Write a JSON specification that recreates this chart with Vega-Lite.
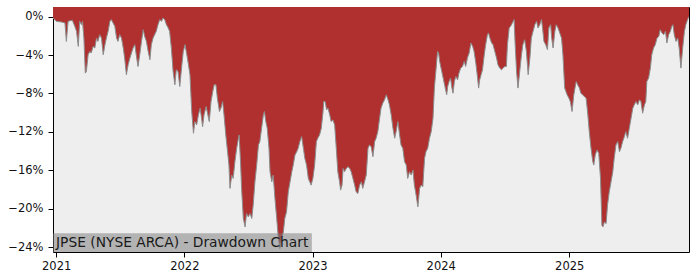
{
  "$schema": "https://vega.github.io/schema/vega-lite/v6.json",
  "width": 636,
  "height": 245,
  "autosize": {"type": "none"},
  "padding": {"left": 53, "top": 7, "right": 11, "bottom": 28},
  "background": "#ffffff",
  "datasets": {
    "dd": [
    {"date": "2020-12-23", "dd": -0.14},
    {"date": "2021-01-02", "dd": -0.49},
    {"date": "2021-01-16", "dd": -0.56},
    {"date": "2021-01-26", "dd": -0.66},
    {"date": "2021-01-30", "dd": -2.58},
    {"date": "2021-02-04", "dd": -0.49},
    {"date": "2021-02-16", "dd": -0.38},
    {"date": "2021-02-23", "dd": -1.01},
    {"date": "2021-02-28", "dd": -1.53},
    {"date": "2021-03-05", "dd": -3.10},
    {"date": "2021-03-09", "dd": -0.49},
    {"date": "2021-03-14", "dd": -0.84},
    {"date": "2021-03-17", "dd": -0.49},
    {"date": "2021-03-21", "dd": -2.23},
    {"date": "2021-03-25", "dd": -5.88},
    {"date": "2021-03-28", "dd": -5.71},
    {"date": "2021-04-02", "dd": -3.97},
    {"date": "2021-04-07", "dd": -3.62},
    {"date": "2021-04-11", "dd": -3.79},
    {"date": "2021-04-16", "dd": -3.10},
    {"date": "2021-04-21", "dd": -3.27},
    {"date": "2021-04-26", "dd": -2.23},
    {"date": "2021-04-30", "dd": -2.58},
    {"date": "2021-05-05", "dd": -1.88},
    {"date": "2021-05-10", "dd": -2.23},
    {"date": "2021-05-15", "dd": -3.97},
    {"date": "2021-05-20", "dd": -2.92},
    {"date": "2021-05-24", "dd": -2.23},
    {"date": "2021-05-29", "dd": -1.53},
    {"date": "2021-06-03", "dd": -0.49},
    {"date": "2021-06-07", "dd": -0.31},
    {"date": "2021-06-12", "dd": -0.66},
    {"date": "2021-06-17", "dd": -1.01},
    {"date": "2021-06-22", "dd": -2.23},
    {"date": "2021-06-26", "dd": -2.58},
    {"date": "2021-07-01", "dd": -1.88},
    {"date": "2021-07-06", "dd": -2.23},
    {"date": "2021-07-11", "dd": -3.27},
    {"date": "2021-07-15", "dd": -4.31},
    {"date": "2021-07-20", "dd": -6.05},
    {"date": "2021-07-25", "dd": -5.01},
    {"date": "2021-07-30", "dd": -4.31},
    {"date": "2021-08-08", "dd": -3.27},
    {"date": "2021-08-13", "dd": -2.92},
    {"date": "2021-08-17", "dd": -3.97},
    {"date": "2021-08-22", "dd": -5.19},
    {"date": "2021-08-27", "dd": -3.97},
    {"date": "2021-09-01", "dd": -2.58},
    {"date": "2021-09-06", "dd": -1.36},
    {"date": "2021-09-10", "dd": -2.06},
    {"date": "2021-09-15", "dd": -2.58},
    {"date": "2021-09-20", "dd": -3.62},
    {"date": "2021-09-25", "dd": -4.49},
    {"date": "2021-09-29", "dd": -2.92},
    {"date": "2021-10-04", "dd": -2.23},
    {"date": "2021-10-13", "dd": -1.53},
    {"date": "2021-10-18", "dd": -0.84},
    {"date": "2021-10-23", "dd": -0.31},
    {"date": "2021-10-28", "dd": -0.49},
    {"date": "2021-11-01", "dd": -0.14},
    {"date": "2021-11-06", "dd": -0.31},
    {"date": "2021-11-11", "dd": -0.84},
    {"date": "2021-11-16", "dd": -1.18},
    {"date": "2021-11-20", "dd": -1.53},
    {"date": "2021-11-25", "dd": -3.27},
    {"date": "2021-11-30", "dd": -5.71},
    {"date": "2021-12-05", "dd": -7.10},
    {"date": "2021-12-09", "dd": -5.53},
    {"date": "2021-12-14", "dd": -5.71},
    {"date": "2021-12-19", "dd": -7.27},
    {"date": "2021-12-25", "dd": -5.01},
    {"date": "2021-12-29", "dd": -3.62},
    {"date": "2022-01-03", "dd": -2.92},
    {"date": "2022-01-08", "dd": -3.97},
    {"date": "2022-01-12", "dd": -4.84},
    {"date": "2022-01-17", "dd": -6.05},
    {"date": "2022-01-22", "dd": -9.88},
    {"date": "2022-01-27", "dd": -12.14},
    {"date": "2022-01-31", "dd": -10.93},
    {"date": "2022-02-05", "dd": -11.27},
    {"date": "2022-02-10", "dd": -10.23},
    {"date": "2022-02-15", "dd": -9.53},
    {"date": "2022-02-19", "dd": -10.58},
    {"date": "2022-02-22", "dd": -11.45},
    {"date": "2022-02-26", "dd": -10.23},
    {"date": "2022-03-04", "dd": -9.36},
    {"date": "2022-03-07", "dd": -9.88},
    {"date": "2022-03-13", "dd": -10.93},
    {"date": "2022-03-18", "dd": -8.84},
    {"date": "2022-03-23", "dd": -7.79},
    {"date": "2022-03-27", "dd": -7.10},
    {"date": "2022-04-01", "dd": -7.10},
    {"date": "2022-04-05", "dd": -8.49},
    {"date": "2022-04-11", "dd": -9.88},
    {"date": "2022-04-15", "dd": -9.53},
    {"date": "2022-04-20", "dd": -8.84},
    {"date": "2022-04-24", "dd": -10.23},
    {"date": "2022-04-29", "dd": -12.32},
    {"date": "2022-05-03", "dd": -13.71},
    {"date": "2022-05-08", "dd": -15.45},
    {"date": "2022-05-11", "dd": -17.88},
    {"date": "2022-05-16", "dd": -16.49},
    {"date": "2022-05-20", "dd": -16.84},
    {"date": "2022-05-25", "dd": -15.10},
    {"date": "2022-05-30", "dd": -13.71},
    {"date": "2022-06-04", "dd": -12.66},
    {"date": "2022-06-06", "dd": -12.32},
    {"date": "2022-06-10", "dd": -15.10},
    {"date": "2022-06-13", "dd": -17.88},
    {"date": "2022-06-18", "dd": -21.01},
    {"date": "2022-06-23", "dd": -21.89},
    {"date": "2022-06-27", "dd": -20.49},
    {"date": "2022-07-02", "dd": -20.84},
    {"date": "2022-07-07", "dd": -20.49},
    {"date": "2022-07-12", "dd": -21.01},
    {"date": "2022-07-16", "dd": -19.62},
    {"date": "2022-07-21", "dd": -17.19},
    {"date": "2022-07-26", "dd": -15.45},
    {"date": "2022-07-31", "dd": -13.36},
    {"date": "2022-08-04", "dd": -13.01},
    {"date": "2022-08-09", "dd": -11.62},
    {"date": "2022-08-14", "dd": -10.23},
    {"date": "2022-08-17", "dd": -9.88},
    {"date": "2022-08-21", "dd": -10.93},
    {"date": "2022-08-25", "dd": -11.62},
    {"date": "2022-08-30", "dd": -13.71},
    {"date": "2022-09-02", "dd": -16.15},
    {"date": "2022-09-07", "dd": -17.19},
    {"date": "2022-09-11", "dd": -16.49},
    {"date": "2022-09-16", "dd": -18.93},
    {"date": "2022-09-21", "dd": -21.01},
    {"date": "2022-09-25", "dd": -22.76},
    {"date": "2022-09-30", "dd": -24.14},
    {"date": "2022-10-05", "dd": -23.10},
    {"date": "2022-10-10", "dd": -22.41},
    {"date": "2022-10-14", "dd": -21.01},
    {"date": "2022-10-19", "dd": -20.32},
    {"date": "2022-10-24", "dd": -18.23},
    {"date": "2022-10-29", "dd": -17.19},
    {"date": "2022-11-03", "dd": -16.15},
    {"date": "2022-11-07", "dd": -15.45},
    {"date": "2022-11-12", "dd": -14.41},
    {"date": "2022-11-17", "dd": -14.06},
    {"date": "2022-11-21", "dd": -13.71},
    {"date": "2022-11-26", "dd": -13.01},
    {"date": "2022-12-01", "dd": -12.49},
    {"date": "2022-12-06", "dd": -13.71},
    {"date": "2022-12-10", "dd": -14.75},
    {"date": "2022-12-15", "dd": -15.45},
    {"date": "2022-12-20", "dd": -16.84},
    {"date": "2022-12-24", "dd": -17.19},
    {"date": "2022-12-28", "dd": -17.54},
    {"date": "2023-01-02", "dd": -16.84},
    {"date": "2023-01-07", "dd": -15.45},
    {"date": "2023-01-12", "dd": -13.01},
    {"date": "2023-01-16", "dd": -12.66},
    {"date": "2023-01-21", "dd": -12.32},
    {"date": "2023-01-26", "dd": -11.62},
    {"date": "2023-01-31", "dd": -9.88},
    {"date": "2023-02-02", "dd": -8.84},
    {"date": "2023-02-06", "dd": -8.84},
    {"date": "2023-02-10", "dd": -9.71},
    {"date": "2023-02-14", "dd": -9.53},
    {"date": "2023-02-19", "dd": -10.23},
    {"date": "2023-02-23", "dd": -10.93},
    {"date": "2023-02-28", "dd": -10.75},
    {"date": "2023-03-05", "dd": -11.27},
    {"date": "2023-03-09", "dd": -13.36},
    {"date": "2023-03-14", "dd": -16.15},
    {"date": "2023-03-19", "dd": -17.19},
    {"date": "2023-03-22", "dd": -18.06},
    {"date": "2023-03-26", "dd": -17.54},
    {"date": "2023-03-29", "dd": -15.80},
    {"date": "2023-04-02", "dd": -16.15},
    {"date": "2023-04-07", "dd": -15.80},
    {"date": "2023-04-12", "dd": -15.62},
    {"date": "2023-04-17", "dd": -15.80},
    {"date": "2023-04-21", "dd": -16.15},
    {"date": "2023-04-26", "dd": -16.84},
    {"date": "2023-05-01", "dd": -17.54},
    {"date": "2023-05-05", "dd": -18.23},
    {"date": "2023-05-10", "dd": -18.41},
    {"date": "2023-05-15", "dd": -17.54},
    {"date": "2023-05-20", "dd": -17.19},
    {"date": "2023-05-24", "dd": -17.88},
    {"date": "2023-05-29", "dd": -17.19},
    {"date": "2023-06-03", "dd": -16.49},
    {"date": "2023-06-08", "dd": -13.71},
    {"date": "2023-06-12", "dd": -13.36},
    {"date": "2023-06-17", "dd": -13.54},
    {"date": "2023-06-22", "dd": -14.58},
    {"date": "2023-06-27", "dd": -13.01},
    {"date": "2023-07-01", "dd": -12.66},
    {"date": "2023-07-06", "dd": -11.97},
    {"date": "2023-07-11", "dd": -10.58},
    {"date": "2023-07-15", "dd": -9.53},
    {"date": "2023-07-20", "dd": -9.01},
    {"date": "2023-07-25", "dd": -8.66},
    {"date": "2023-07-30", "dd": -8.14},
    {"date": "2023-08-04", "dd": -8.66},
    {"date": "2023-08-08", "dd": -9.19},
    {"date": "2023-08-13", "dd": -10.23},
    {"date": "2023-08-18", "dd": -11.62},
    {"date": "2023-08-23", "dd": -12.66},
    {"date": "2023-08-27", "dd": -11.97},
    {"date": "2023-09-01", "dd": -10.93},
    {"date": "2023-09-06", "dd": -12.32},
    {"date": "2023-09-10", "dd": -13.36},
    {"date": "2023-09-15", "dd": -13.71},
    {"date": "2023-09-20", "dd": -15.10},
    {"date": "2023-09-25", "dd": -15.45},
    {"date": "2023-09-29", "dd": -16.84},
    {"date": "2023-10-04", "dd": -16.15},
    {"date": "2023-10-09", "dd": -16.49},
    {"date": "2023-10-14", "dd": -15.97},
    {"date": "2023-10-18", "dd": -17.54},
    {"date": "2023-10-23", "dd": -18.58},
    {"date": "2023-10-28", "dd": -19.80},
    {"date": "2023-11-02", "dd": -17.88},
    {"date": "2023-11-06", "dd": -17.54},
    {"date": "2023-11-11", "dd": -17.71},
    {"date": "2023-11-16", "dd": -14.75},
    {"date": "2023-11-20", "dd": -14.06},
    {"date": "2023-11-25", "dd": -13.71},
    {"date": "2023-11-30", "dd": -12.66},
    {"date": "2023-12-05", "dd": -11.97},
    {"date": "2023-12-10", "dd": -10.58},
    {"date": "2023-12-14", "dd": -7.44},
    {"date": "2023-12-19", "dd": -5.36},
    {"date": "2023-12-23", "dd": -3.62},
    {"date": "2023-12-26", "dd": -3.79},
    {"date": "2023-12-29", "dd": -4.66},
    {"date": "2024-01-04", "dd": -5.71},
    {"date": "2024-01-08", "dd": -6.40},
    {"date": "2024-01-14", "dd": -7.44},
    {"date": "2024-01-18", "dd": -8.14},
    {"date": "2024-01-21", "dd": -7.27},
    {"date": "2024-01-25", "dd": -6.75},
    {"date": "2024-01-29", "dd": -6.40},
    {"date": "2024-02-02", "dd": -7.44},
    {"date": "2024-02-05", "dd": -7.97},
    {"date": "2024-02-09", "dd": -6.75},
    {"date": "2024-02-13", "dd": -6.23},
    {"date": "2024-02-18", "dd": -6.58},
    {"date": "2024-02-22", "dd": -5.88},
    {"date": "2024-02-27", "dd": -5.36},
    {"date": "2024-03-03", "dd": -5.19},
    {"date": "2024-03-08", "dd": -4.66},
    {"date": "2024-03-12", "dd": -5.19},
    {"date": "2024-03-17", "dd": -4.31},
    {"date": "2024-03-22", "dd": -3.79},
    {"date": "2024-03-27", "dd": -2.75},
    {"date": "2024-04-01", "dd": -3.10},
    {"date": "2024-04-05", "dd": -3.62},
    {"date": "2024-04-10", "dd": -4.84},
    {"date": "2024-04-15", "dd": -6.40},
    {"date": "2024-04-18", "dd": -7.44},
    {"date": "2024-04-21", "dd": -6.58},
    {"date": "2024-04-25", "dd": -6.05},
    {"date": "2024-04-29", "dd": -5.53},
    {"date": "2024-05-04", "dd": -3.97},
    {"date": "2024-05-08", "dd": -2.92},
    {"date": "2024-05-13", "dd": -1.88},
    {"date": "2024-05-16", "dd": -1.70},
    {"date": "2024-05-20", "dd": -2.23},
    {"date": "2024-05-25", "dd": -2.75},
    {"date": "2024-05-29", "dd": -2.92},
    {"date": "2024-06-03", "dd": -3.62},
    {"date": "2024-06-08", "dd": -4.31},
    {"date": "2024-06-12", "dd": -5.01},
    {"date": "2024-06-17", "dd": -5.36},
    {"date": "2024-06-22", "dd": -5.53},
    {"date": "2024-06-27", "dd": -5.36},
    {"date": "2024-07-01", "dd": -5.19},
    {"date": "2024-07-06", "dd": -5.19},
    {"date": "2024-07-09", "dd": -2.92},
    {"date": "2024-07-14", "dd": -1.18},
    {"date": "2024-07-18", "dd": -1.01},
    {"date": "2024-07-23", "dd": -0.66},
    {"date": "2024-07-28", "dd": -0.31},
    {"date": "2024-07-31", "dd": -2.92},
    {"date": "2024-08-04", "dd": -5.71},
    {"date": "2024-08-08", "dd": -7.44},
    {"date": "2024-08-13", "dd": -5.71},
    {"date": "2024-08-18", "dd": -3.97},
    {"date": "2024-08-22", "dd": -2.92},
    {"date": "2024-08-27", "dd": -2.40},
    {"date": "2024-09-01", "dd": -3.62},
    {"date": "2024-09-06", "dd": -6.05},
    {"date": "2024-09-11", "dd": -4.31},
    {"date": "2024-09-15", "dd": -2.23},
    {"date": "2024-09-20", "dd": -1.53},
    {"date": "2024-09-25", "dd": -0.84},
    {"date": "2024-09-30", "dd": -0.49},
    {"date": "2024-10-04", "dd": -1.18},
    {"date": "2024-10-09", "dd": -0.84},
    {"date": "2024-10-14", "dd": -0.31},
    {"date": "2024-10-17", "dd": -1.18},
    {"date": "2024-10-21", "dd": -2.58},
    {"date": "2024-10-26", "dd": -2.92},
    {"date": "2024-10-31", "dd": -3.44},
    {"date": "2024-11-04", "dd": -1.18},
    {"date": "2024-11-09", "dd": -0.84},
    {"date": "2024-11-12", "dd": -2.23},
    {"date": "2024-11-16", "dd": -3.27},
    {"date": "2024-11-21", "dd": -1.53},
    {"date": "2024-11-25", "dd": -0.84},
    {"date": "2024-11-30", "dd": -1.18},
    {"date": "2024-12-05", "dd": -1.70},
    {"date": "2024-12-10", "dd": -2.23},
    {"date": "2024-12-14", "dd": -3.97},
    {"date": "2024-12-19", "dd": -7.44},
    {"date": "2024-12-26", "dd": -8.14},
    {"date": "2024-12-31", "dd": -8.49},
    {"date": "2025-01-04", "dd": -8.84},
    {"date": "2025-01-09", "dd": -9.88},
    {"date": "2025-01-14", "dd": -8.14},
    {"date": "2025-01-19", "dd": -7.10},
    {"date": "2025-01-21", "dd": -6.75},
    {"date": "2025-01-25", "dd": -7.10},
    {"date": "2025-01-30", "dd": -7.44},
    {"date": "2025-02-03", "dd": -7.97},
    {"date": "2025-02-08", "dd": -8.14},
    {"date": "2025-02-13", "dd": -8.32},
    {"date": "2025-02-18", "dd": -8.49},
    {"date": "2025-02-23", "dd": -10.23},
    {"date": "2025-02-27", "dd": -11.97},
    {"date": "2025-03-04", "dd": -13.71},
    {"date": "2025-03-09", "dd": -15.10},
    {"date": "2025-03-12", "dd": -15.45},
    {"date": "2025-03-16", "dd": -14.41},
    {"date": "2025-03-21", "dd": -13.88},
    {"date": "2025-03-26", "dd": -14.23},
    {"date": "2025-03-31", "dd": -16.84},
    {"date": "2025-04-04", "dd": -21.71},
    {"date": "2025-04-07", "dd": -21.89},
    {"date": "2025-04-11", "dd": -21.37},
    {"date": "2025-04-16", "dd": -21.54},
    {"date": "2025-04-20", "dd": -19.62},
    {"date": "2025-04-25", "dd": -18.23},
    {"date": "2025-04-30", "dd": -17.19},
    {"date": "2025-05-05", "dd": -16.15},
    {"date": "2025-05-09", "dd": -14.75},
    {"date": "2025-05-14", "dd": -13.36},
    {"date": "2025-05-19", "dd": -13.01},
    {"date": "2025-05-24", "dd": -14.06},
    {"date": "2025-05-28", "dd": -13.71},
    {"date": "2025-06-02", "dd": -13.01},
    {"date": "2025-06-07", "dd": -12.49},
    {"date": "2025-06-11", "dd": -11.97},
    {"date": "2025-06-16", "dd": -12.66},
    {"date": "2025-06-21", "dd": -11.62},
    {"date": "2025-06-26", "dd": -10.58},
    {"date": "2025-07-01", "dd": -9.53},
    {"date": "2025-07-05", "dd": -9.19},
    {"date": "2025-07-10", "dd": -8.84},
    {"date": "2025-07-15", "dd": -9.19},
    {"date": "2025-07-20", "dd": -8.66},
    {"date": "2025-07-24", "dd": -8.84},
    {"date": "2025-07-29", "dd": -10.05},
    {"date": "2025-08-03", "dd": -9.19},
    {"date": "2025-08-07", "dd": -8.84},
    {"date": "2025-08-10", "dd": -6.75},
    {"date": "2025-08-15", "dd": -6.40},
    {"date": "2025-08-20", "dd": -5.36},
    {"date": "2025-08-24", "dd": -3.97},
    {"date": "2025-08-29", "dd": -3.27},
    {"date": "2025-09-03", "dd": -2.92},
    {"date": "2025-09-08", "dd": -2.23},
    {"date": "2025-09-13", "dd": -2.06},
    {"date": "2025-09-17", "dd": -1.36},
    {"date": "2025-09-22", "dd": -1.70},
    {"date": "2025-09-27", "dd": -1.88},
    {"date": "2025-10-02", "dd": -1.53},
    {"date": "2025-10-06", "dd": -2.75},
    {"date": "2025-10-11", "dd": -1.88},
    {"date": "2025-10-16", "dd": -1.53},
    {"date": "2025-10-20", "dd": -1.01},
    {"date": "2025-10-23", "dd": -0.84},
    {"date": "2025-10-27", "dd": -1.88},
    {"date": "2025-11-01", "dd": -2.58},
    {"date": "2025-11-06", "dd": -2.23},
    {"date": "2025-11-10", "dd": -3.27},
    {"date": "2025-11-15", "dd": -5.36},
    {"date": "2025-11-20", "dd": -3.27},
    {"date": "2025-11-25", "dd": -1.53},
    {"date": "2025-11-29", "dd": -0.84},
    {"date": "2025-12-04", "dd": -0.31},
    {"date": "2025-12-08", "dd": 0}
    ],
    "label": [
      {"label": "JPSE (NYSE ARCA) - Drawdown Chart", "start": "2020-12-23", "end": "2022-12-30", "bottom": -24.5, "top": -22.55}
    ]
  },
  "layer": [
    {
      "data": {"name": "dd"},
      "mark": {"type": "area", "color": "#b03030", "clip": true, "interpolate": "linear"},
      "encoding": {
        "x": {
          "field": "date",
          "type": "temporal",
          "scale": {
            "type": "utc",
            "domain": [
              {"year": 2020, "month": 12, "date": 23, "utc": true},
              {"year": 2025, "month": 12, "date": 8, "utc": true}
            ]
          },
          "axis": {
            "values": [
              {"year": 2021, "month": 1, "date": 1, "utc": true},
              {"year": 2022, "month": 1, "date": 1, "utc": true},
              {"year": 2023, "month": 1, "date": 1, "utc": true},
              {"year": 2024, "month": 1, "date": 1, "utc": true},
              {"year": 2025, "month": 1, "date": 1, "utc": true}
            ],
            "format": "%Y",
            "labelPadding": 3
          }
        },
        "y": {
          "field": "dd",
          "type": "quantitative",
          "scale": {"domain": [-24.5, 1.0], "nice": false, "zero": false},
          "axis": {
            "values": [0, -4, -8, -12, -16, -20, -24],
            "labelExpr": "format(datum.value, 'd') + '%'",
            "labelPadding": 5
          }
        },
        "y2": {"datum": 1.0}
      }
    },
    {
      "data": {"name": "dd"},
      "mark": {"type": "line", "color": "#8c8c8c", "strokeWidth": 1, "clip": true},
      "encoding": {
        "x": {"field": "date", "type": "temporal"},
        "y": {"field": "dd", "type": "quantitative"}
      }
    },
    {
      "data": {"name": "label"},
      "mark": {"type": "rect", "color": "#777777", "opacity": 0.5},
      "encoding": {
        "x": {"field": "start", "type": "temporal"},
        "x2": {"field": "end"},
        "y": {"field": "bottom", "type": "quantitative"},
        "y2": {"field": "top"}
      }
    },
    {
      "data": {"name": "label"},
      "mark": {"type": "text", "align": "left", "baseline": "alphabetic", "dx": 3, "dy": -5, "font": "DejaVu Sans", "fontSize": 13.8, "color": "#1a1a1a"},
      "encoding": {
        "x": {"field": "start", "type": "temporal"},
        "y": {"field": "bottom", "type": "quantitative"},
        "text": {"field": "label"}
      }
    }
  ],
  "config": {
    "view": {"fill": "#eeeeee", "stroke": "#000000", "strokeWidth": 1},
    "axis": {
      "domain": false,
      "grid": false,
      "title": null,
      "tickColor": "#000000",
      "tickSize": 5,
      "tickWidth": 1,
      "labelFont": "DejaVu Sans",
      "labelFontSize": 11.5,
      "labelColor": "#111111"
    }
  }
}
